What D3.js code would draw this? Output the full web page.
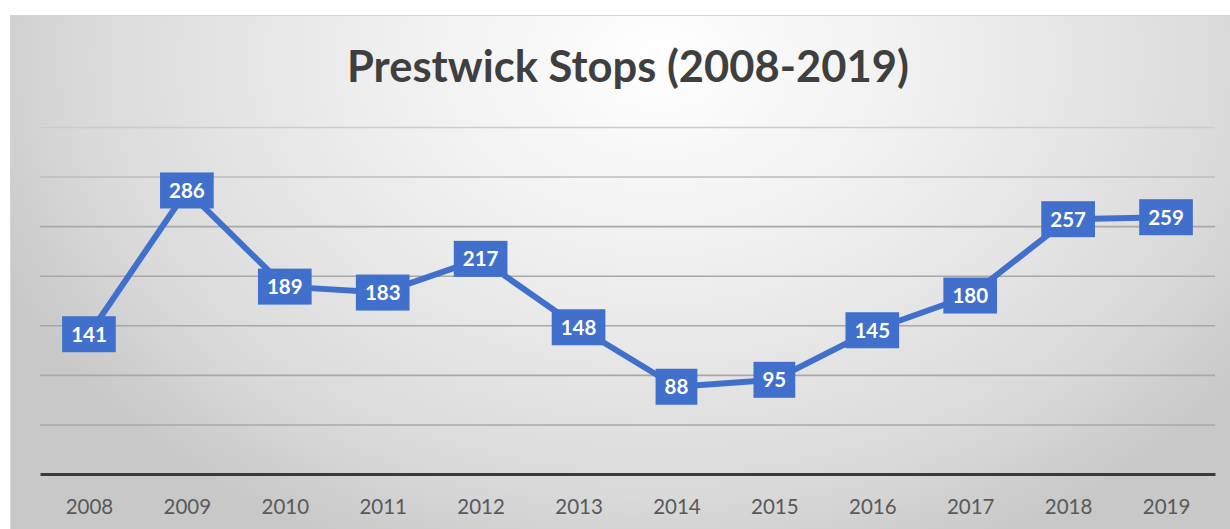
<!DOCTYPE html>
<html>
<head>
<meta charset="utf-8">
<script src="https://cdn.jsdelivr.net/npm/d3@7"></script>
<style>
  html, body { margin: 0; padding: 0; background: #fff; }
  svg { display: block; }
</style>
</head>
<body>
<svg id="chart" width="1230" height="529"></svg>
<script>
const years = ["2008","2009","2010","2011","2012","2013","2014","2015","2016","2017","2018","2019"];
const stops = [141, 286, 189, 183, 217, 148, 88, 95, 145, 180, 257, 259];
const gridTicks = [50, 100, 150, 200, 250, 300, 350];
const title = "Prestwick Stops (2008-2019)";

(function () {
const svg = d3.select("#chart");
const W = 1230, H = 529;
const mLeft = 40, mRight = 1215, mTop = 127, mBottom = 474;

const defs = svg.append("defs");
const grad = defs.append("radialGradient")
  .attr("id", "bg")
  .attr("gradientUnits", "userSpaceOnUse")
  .attr("cx", 660).attr("cy", 60).attr("r", 720)
  .attr("gradientTransform", "translate(660,60) scale(1,0.75) translate(-660,-60)");
grad.append("stop").attr("offset", "0").attr("stop-color", "#ffffff");
grad.append("stop").attr("offset", "0.45").attr("stop-color", "#ececec");
grad.append("stop").attr("offset", "0.8").attr("stop-color", "#dadada");
grad.append("stop").attr("offset", "1").attr("stop-color", "#c8c8c8");

svg.append("rect").attr("width", W).attr("height", H).attr("fill", "#ffffff");
svg.append("rect")
  .attr("x", 10.5).attr("y", 15.5).attr("width", W).attr("height", H)
  .attr("fill", "url(#bg)")
  .attr("stroke", "#d4d4d4").attr("stroke-width", 1);

const x = d3.scalePoint().domain(years).range([mLeft, mRight]).padding(0.5);
const y = d3.scaleLinear().domain([0, 350]).range([mBottom, mTop]);

// gridlines
const grid = svg.append("g")
  .attr("transform", `translate(${mLeft},0)`)
  .call(d3.axisLeft(y).tickValues(gridTicks).tickSize(-(mRight - mLeft)).tickFormat(""));
grid.select(".domain").remove();
grid.selectAll(".tick line")
  .attr("stroke", d => d >= 350 ? "#cccccc" : (d >= 300 ? "#bcbcbc" : "#a8a8a8"))
  .attr("stroke-width", 1.6);

// x axis
const xAxis = svg.append("g")
  .attr("transform", `translate(0,${mBottom})`)
  .call(d3.axisBottom(x).tickSize(0).tickSizeOuter(0).tickPadding(25));
xAxis.select(".domain").attr("stroke", "#3a3a3a").attr("stroke-width", 3.2);
xAxis.selectAll(".tick text")
  .attr("fill", "#595959")
  .style("font-family", "Lato, 'Open Sans', sans-serif")
  .style("font-size", "20.5px");

// title
svg.append("text")
  .attr("x", 628).attr("y", 82)
  .attr("text-anchor", "middle")
  .attr("fill", "#3f3f3f")
  .style("font-family", "Lato, 'Open Sans', sans-serif")
  .style("font-weight", "bold")
  .style("font-size", "43px")
  .attr("textLength", 562)
  .attr("lengthAdjust", "spacingAndGlyphs")
  .text(title);

const blue = "#4070CC";
const data = years.map((yr, i) => ({ yr, v: stops[i] }));

svg.append("path")
  .datum(data)
  .attr("fill", "none")
  .attr("stroke", blue)
  .attr("stroke-width", 6)
  .attr("stroke-linejoin", "round")
  .attr("d", d3.line().x(d => x(d.yr)).y(d => y(d.v)));

const labels = svg.append("g").selectAll("g").data(data).join("g")
  .attr("transform", d => `translate(${x(d.yr)},${y(d.v)})`);
labels.append("rect").attr("fill", blue);
labels.append("text")
  .attr("text-anchor", "middle")
  .attr("dy", "0.36em")
  .attr("fill", "#ffffff")
  .style("font-family", "Lato, 'Open Sans', sans-serif")
  .style("font-weight", "bold")
  .style("font-size", "20.5px")
  .text(d => d.v);
labels.each(function() {
  const g = d3.select(this);
  const w = g.select("text").node().getComputedTextLength() + 18;
  const h = 36;
  g.select("rect").attr("x", -w / 2).attr("y", -h / 2).attr("width", w).attr("height", h);
});
})();
</script>
</body>
</html>
